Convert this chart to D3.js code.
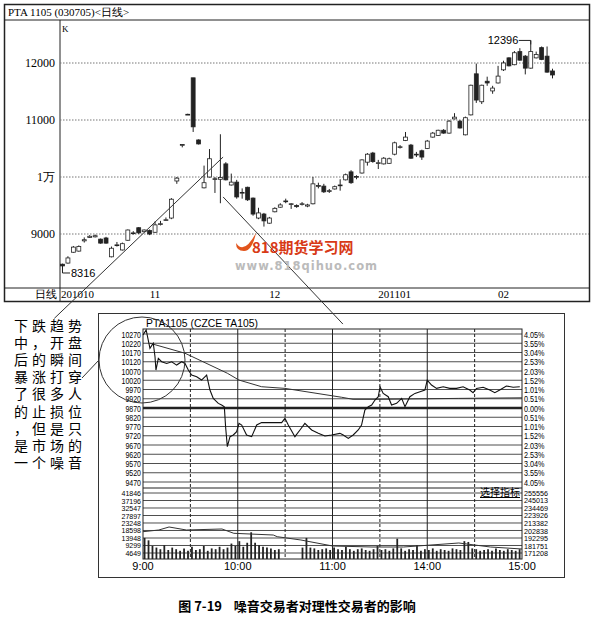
<!DOCTYPE html>
<html><head><meta charset="utf-8">
<script src="https://cdn.jsdelivr.net/npm/d3@7"></script>
<style>body{margin:0;background:#fff}svg{display:block}</style>
</head><body>
<script>
// ---- daily candles: [open, close, high, low]
const candles = [
[8470,8440,8480,8316],[8490,8580,8610,8480],[8680,8770,8790,8670],[8700,8780,8800,8690],[8880,8900,8940,8850],
[8940,8960,8980,8930],[8950,8970,8990,8940],[8910,8840,8920,8830],[8930,8840,8950,8830],[8600,8750,8780,8590],
[8800,8810,8860,8780],[8720,8830,8850,8710],[8890,9070,9080,8880],[9010,9020,9050,8990],[9110,9020,9120,9000],
[9040,9070,9080,9030],[9060,9000,9080,8980],[9030,9160,9220,9020],[9170,9180,9230,9150],[9240,9250,9290,9230],
[9280,9610,9630,9260],[9930,9980,10000,9880],[10560,10570,10570,10520],[11100,11100,11110,11100],[11740,10880,11740,10790],
[10650,10580,10660,10570],[9810,9900,10200,9800],[10000,10320,10490,9990],[9960,9970,10000,9720],[9960,9990,10750,9540],
[10230,9950,10260,9940],[9860,9910,10060,9850],[9910,9650,9950,9620],[9720,9730,9800,9620],[9820,9600,9830,9580],
[9630,9350,9640,9320],[9280,9370,9460,9260],[9350,9230,9370,9130],[9190,9280,9300,9180],[9390,9450,9470,9380],
[9470,9510,9540,9460],[9570,9580,9620,9540],[9520,9530,9540,9440],[9500,9480,9520,9460],[9520,9530,9560,9500],
[9490,9510,9530,9470],[9530,9880,10000,9520],[9840,9850,9900,9800],[9840,9740,9880,9720],[9750,9760,9790,9720],
[9790,9830,9850,9780],[9850,9860,9960,9760],[9950,10040,10060,9940],[10090,9900,10120,9880],[10000,10010,10030,9960],
[10070,10300,10310,10060],[10260,10400,10420,10200],[10420,10270,10440,10250],[10240,10250,10300,10140],[10230,10330,10350,10220],
[10240,10320,10340,10230],[10400,10600,10620,10380],[10520,10530,10560,10500],[10640,10700,10790,10630],[10560,10330,10580,10320],
[10390,10400,10440,10350],[10460,10350,10480,10300],[10500,10630,10650,10490],[10700,10770,10790,10690],[10730,10820,10830,10720],
[10820,10770,10840,10760],[10770,10980,11000,10760],[11020,11050,11120,11010],[10980,10860,11000,10850],[10740,11040,11060,10730],
[11090,11610,11620,11080],[11810,11350,11990,11300],[11320,11610,11620,11280],[11680,11650,11760,11600],[11510,11560,11600,11460],
[11650,11770,11950,11640],[11880,12000,12040,11860],[12090,11950,12100,11940],[11970,12180,12210,11960],[12200,12050,12260,12040],
[12120,11910,12140,11800],[11910,12200,12396,11900],[12090,12150,12200,12080],[12270,12060,12290,12050],[12120,11840,12290,11830],
[11860,11790,11900,11730]];
const dailyTicks = [9000,10000,11000,12000];
const dailyTickLabels = ["9000","1万","11000","12000"];
const monthLabels = ["201010","11","12","201101","02"];
const monthIdx = [0,17,39,61,81];
// trend lines (candle index, price)
const upTrend = [[-1.5,7520],[29.5,10350]];
const downTrend = [[29.5,9650],[51.5,7420]];

// ---- intraday (t: 0..240 units, 30 per half hour segment)
const priceT = [0,2,4.4,6.5,7.6,8.2,9.7,11.8,15,18.2,21.3,24.5,26.6,28.7,30.8,34,37.1,40.3,42.4,44.5,47.7,49.8,51.5,52.3,53.4,55.1,57.2,59.3,60.8,62.5,65.6,68.8,72,75.1,87.8,89.9,92,96.2,99.4,102.5,106.8,111,115.2,119.4,124.7,126.8,130,133.1,136.3,138.4,140.5,142.7,144.8,146.9,149,150.1,152.1,155.3,157.4,160.6,163.8,165.9,169,172.2,175.4,178.5,180,182.7,185.9,190.1,194.3,198.5,202.7,206.9,209,211.2,215.4,219.6,222.8,225.9,230.1,234.4,238.6];
const priceV = [10265,10292,10193,10220,10147,10075,10138,10120,10111,10120,10102,10120,10111,10075,10048,10039,10021,10048,9967,9922,9895,9886,9877,9769,9661,9715,9724,9742,9787,9778,9724,9715,9778,9791,9791,9814,9778,9715,9751,9787,9751,9733,9719,9724,9733,9724,9706,9724,9751,9778,9859,9877,9886,9913,9931,9985,9949,9931,9886,9895,9922,9877,9931,9949,9958,9967,10021,9994,9976,9985,9976,9976,9985,9967,9953,9976,9982,9967,9953,9967,9989,9982,9985];
const avgT = [4.4,26.6,53.4,60.8,75.1,89.9,125.8,133,150,180,200,240];
const avgV = [10220,10166,10058,10021,9985,9976,9928,9917,9917,9920,9922,9925];
const priceLabels = [10270,10220,10170,10120,10070,10020,9970,9920,9870,9820,9770,9720,9670,9620,9570,9520,9470];
const pctLabels = ["4.05%","3.55%","3.04%","2.53%","2.03%","1.52%","1.01%","0.51%","0.00%","0.51%","1.01%","1.52%","2.03%","2.53%","3.04%","3.55%","4.05%"];
const volLabels = [41846,37196,32547,27897,23248,18598,13948,9299,4649];
const oiLabels = [255556,245013,234469,223926,213382,202838,192295,181751,171208];
// volume bars, one per 2.5 units
const volume = [14000,12500,9000,8000,7000,9500,6500,8000,7000,6000,7500,6000,8500,6500,7000,9000,6000,7500,7000,8500,
7000,8000,10500,9000,12000,8500,11000,17500,11000,9500,8500,8000,7500,6500,7000,0,0,0,0,0,
8000,14000,8000,7500,6500,7000,7500,6500,8000,7000,6500,8500,7000,6000,7000,7500,6500,6000,7000,9000,
6500,7000,6000,7500,13500,7500,6000,7000,6500,9500,6000,7000,6500,7500,6000,7000,6500,6000,7500,7000,
6500,12000,11500,7500,7000,6000,6500,7000,6000,7500,6500,6000,7000,6500,6000,7000];
const oiT = [0,20,33,55,100,115,165,170,200,240,290,330,400,440,480];
const oiV = [201150,203540,207760,203540,204950,198900,196500,194120,189480,181050,179640,179640,185270,179640,176830];
const timeLabels = ["9:00","10:00","11:00","14:00","15:00"];
const timeLabelT = [0,60,120,180,240];
const note = ["下跌趋势","中，开盘","后的瞬间","暴涨打穿","了很多人","的止损位","，但是只","是市场的","一个噪音"];

const svg = d3.select("body").append("svg").attr("width",594).attr("height",623);
const serif = "'Liberation Serif','DejaVu Serif',serif";
const sans = "'Liberation Sans',Arial,sans-serif";

svg.append("rect").attr("x",4.5).attr("y",4.5).attr("width",585).attr("height",297).attr("fill","none").attr("stroke","#222").attr("stroke-width",1.5);
svg.append("line").attr("x1",4.5).attr("x2",589.5).attr("y1",20).attr("y2",20).attr("stroke","#222");
svg.append("line").attr("x1",4.5).attr("x2",589.5).attr("y1",288).attr("y2",288).attr("stroke","#222");
svg.append("line").attr("x1",60).attr("x2",60).attr("y1",20).attr("y2",301).attr("stroke","#222");
svg.append("text").attr("x",8).attr("y",16).attr("font-family",serif).attr("font-size",11).text("PTA 1105 (030705)<日线>");
svg.append("text").attr("x",62).attr("y",32).attr("font-family",serif).attr("font-size",9).text("K");

const y1 = d3.scaleLinear().domain([9000,12000]).range([234,63]);
const x1 = d3.scaleBand().domain(d3.range(candles.length)).range([59,556]).padding(0.28);
const cx = i => x1(i)+x1.bandwidth()/2;
const xi = d3.scaleLinear().domain([0,candles.length-1]).range([cx(0),cx(candles.length-1)]);

const g1 = svg.append("g");
g1.selectAll(".grid").data(dailyTicks).join("line").attr("x1",60).attr("x2",589).attr("y1",d=>y1(d)).attr("y2",d=>y1(d))
  .attr("stroke","#777").attr("stroke-dasharray","1.5,1.5");
g1.selectAll(".yl").data(dailyTicks).join("text").attr("x",55).attr("y",d=>y1(d)+4).attr("text-anchor","end")
  .attr("font-family",serif).attr("font-size",12).text((d,i)=>dailyTickLabels[i]);

const cg = g1.selectAll(".c").data(candles).join("g");
cg.append("line").attr("x1",(d,i)=>cx(i)).attr("x2",(d,i)=>cx(i)).attr("y1",d=>y1(d[2])).attr("y2",d=>y1(d[3])).attr("stroke","#222");
cg.append("rect").attr("x",(d,i)=>x1(i)).attr("width",x1.bandwidth())
  .attr("y",d=>y1(Math.max(d[0],d[1]))).attr("height",d=>Math.max(0.8,Math.abs(y1(d[0])-y1(d[1]))))
  .attr("fill",d=>d[1]>=d[0]?"#fff":"#222").attr("stroke","#222").attr("stroke-width",0.8);

svg.append("text").attr("x",46).attr("y",298).attr("text-anchor","middle").attr("font-family",serif).attr("font-size",11).text("日线");
svg.selectAll(".ml").data(monthLabels).join("text").attr("x",(d,i)=>i==0?61:cx(monthIdx[i])).attr("y",298)
  .attr("text-anchor",(d,i)=>i==0?"start":"middle").attr("font-family",serif).attr("font-size",11).text(d=>d);

const lowIdx = 0, highIdx = 86;
svg.append("text").attr("x",71).attr("y",y1(8316)+4).attr("font-family",sans).attr("font-size",11).text("8316");
svg.append("path").attr("d",`M${cx(lowIdx)},${y1(8316)-6}V${y1(8316)}H70`).attr("fill","none").attr("stroke","#222");
svg.append("text").attr("x",cx(highIdx)-43).attr("y",y1(12396)+4).attr("font-family",sans).attr("font-size",11).text("12396");
svg.append("path").attr("d",`M${cx(highIdx)-12},${y1(12396)}H${cx(highIdx)}V${y1(12396)+4}`).attr("fill","none").attr("stroke","#222");

const tl = d3.line().x(d=>xi(d[0])).y(d=>y1(d[1]));
svg.append("path").attr("d",tl(upTrend)).attr("stroke","#333").attr("fill","none");
svg.append("path").attr("d",tl(downTrend)).attr("stroke","#333").attr("fill","none");

svg.append("path").attr("d","M236,243 q8,12 20,-10 q-4,18 -12,18 q-8,0 -8,-8z").attr("fill","#e2541c");
svg.append("text").attr("x",252).attr("y",253).attr("font-family","'Noto Sans CJK SC',sans-serif").attr("font-weight","bold").attr("font-size",15).attr("fill","#d83a17").text("818期货学习网");
svg.append("text").attr("x",235).attr("y",270).attr("font-family","'DejaVu Sans',sans-serif").attr("font-weight","bold").attr("font-size",11.5).attr("fill","#bbb").attr("letter-spacing",1).text("www.818qihuo.com");

svg.append("rect").attr("x",98.5).attr("y",313.5).attr("width",466).attr("height",264).attr("fill","none").attr("stroke","#333");
svg.append("text").attr("x",146).attr("y",327).attr("font-family",sans).attr("font-size",11).attr("textLength",112).attr("lengthAdjust","spacingAndGlyphs").text("PTA1105 (CZCE TA105)");
const L=143, R=522;
const xt = d3.scaleLinear().domain([0,240]).range([L,R]);
const yp = d3.scaleLinear().domain([9470,10270]).range([482,334]);
const yv = d3.scaleLinear().domain([4649,41846]).range([553,493]);
const yo = d3.scaleLinear().domain([171208,255556]).range([553,493]);
const g2 = svg.append("g");
g2.append("rect").attr("x",L).attr("y",329).attr("width",R-L).attr("height",230).attr("fill","none").attr("stroke","#222");
g2.selectAll(".pg").data(priceLabels).join("line").attr("x1",L).attr("x2",R).attr("y1",d=>yp(d)).attr("y2",d=>yp(d))
  .attr("stroke","#222").attr("stroke-width",d=>d==9870?2.5:0.8);
g2.append("line").attr("x1",L).attr("x2",R).attr("y1",488).attr("y2",488).attr("stroke","#222").attr("stroke-width",1.2);
g2.selectAll(".vg").data(volLabels).join("line").attr("x1",L).attr("x2",R).attr("y1",d=>yv(d)).attr("y2",d=>yv(d)).attr("stroke","#222").attr("stroke-width",0.8);
g2.selectAll(".vs").data([60,120,180]).join("line").attr("x1",d=>xt(d)).attr("x2",d=>xt(d)).attr("y1",329).attr("y2",559).attr("stroke","#222");
g2.selectAll(".vd").data([30,90,150,210]).join("line").attr("x1",d=>xt(d)).attr("x2",d=>xt(d)).attr("y1",329).attr("y2",559).attr("stroke","#222").attr("stroke-dasharray","3,2");
const lab = (sel,data,x,anchor,fs,fmt)=>sel.selectAll(null).data(data).join("text").attr("x",x).attr("text-anchor",anchor)
  .attr("font-family",sans).attr("font-size",fs).attr("lengthAdjust","spacingAndGlyphs").text(fmt);
lab(g2,priceLabels,141,"end",9.5,d=>d).attr("y",(d)=>yp(d)+3.5).attr("textLength",d=>String(d).length*3.9);
lab(g2,pctLabels,524,"start",9.5,d=>d).attr("y",(d,i)=>yp(priceLabels[i])+3.5).attr("textLength",d=>d.length*4.1);
lab(g2,volLabels,141,"end",7.5,d=>d).attr("y",d=>yv(d)+3).attr("textLength",d=>String(d).length*3.9);
lab(g2,oiLabels,524,"start",7.5,d=>d).attr("y",d=>yo(d)+3).attr("textLength",24);
g2.selectAll(".tl").data(timeLabels).join("text").attr("x",(d,i)=>xt(timeLabelT[i])).attr("y",570).attr("text-anchor","middle")
  .attr("font-family",sans).attr("font-size",11).text(d=>d);
g2.append("text").attr("x",520).attr("y",496).attr("text-anchor","end").attr("font-family","'Noto Sans CJK SC',sans-serif").attr("font-size",10).attr("text-decoration","underline").text("选择指标");
const bw = 240/volume.length;
g2.selectAll(".vb").data(volume).join("line").attr("x1",(d,i)=>xt(i*bw+1)).attr("x2",(d,i)=>xt(i*bw+1))
  .attr("y1",559).attr("y2",d=>d?Math.min(559,yv(d)):559).attr("stroke","#222").attr("stroke-width",1.8);
g2.append("path").attr("d",d3.line().x(d=>xt(d[0]/2)).y(d=>yo(d[1]))(oiT.map((t,i)=>[t,oiV[i]]))).attr("fill","none").attr("stroke","#333");
g2.append("path").attr("d",d3.line().x(d=>xt(d[0])).y(d=>yp(d[1]))(avgT.map((t,i)=>[t,avgV[i]]))).attr("fill","none").attr("stroke","#333");
g2.append("path").attr("d",d3.line().x(d=>xt(d[0])).y(d=>yp(d[1]))(priceT.map((t,i)=>[t,priceV[i]]))).attr("fill","none").attr("stroke","#111").attr("stroke-width",1.1);

svg.append("circle").attr("cx",142).attr("cy",360).attr("r",43).attr("fill","none").attr("stroke","#333");
svg.append("line").attr("x1",82).attr("y1",378).attr("x2",99).attr("y2",360).attr("stroke","#333");
svg.selectAll(".nt").data(note).join("text").attr("x",14).attr("y",(d,i)=>331+i*17.1)
  .attr("font-family","'Noto Sans CJK SC',sans-serif").attr("font-size",14).attr("textLength",68).attr("lengthAdjust","spacing").text(d=>d);

svg.append("text").attr("x",297).attr("y",611).attr("text-anchor","middle").attr("font-family","'Noto Sans CJK SC',sans-serif").attr("font-weight","bold").attr("font-size",13)
  .attr("xml:space","preserve").text("图 7-19    噪音交易者对理性交易者的影响");
</script>
</body></html>
